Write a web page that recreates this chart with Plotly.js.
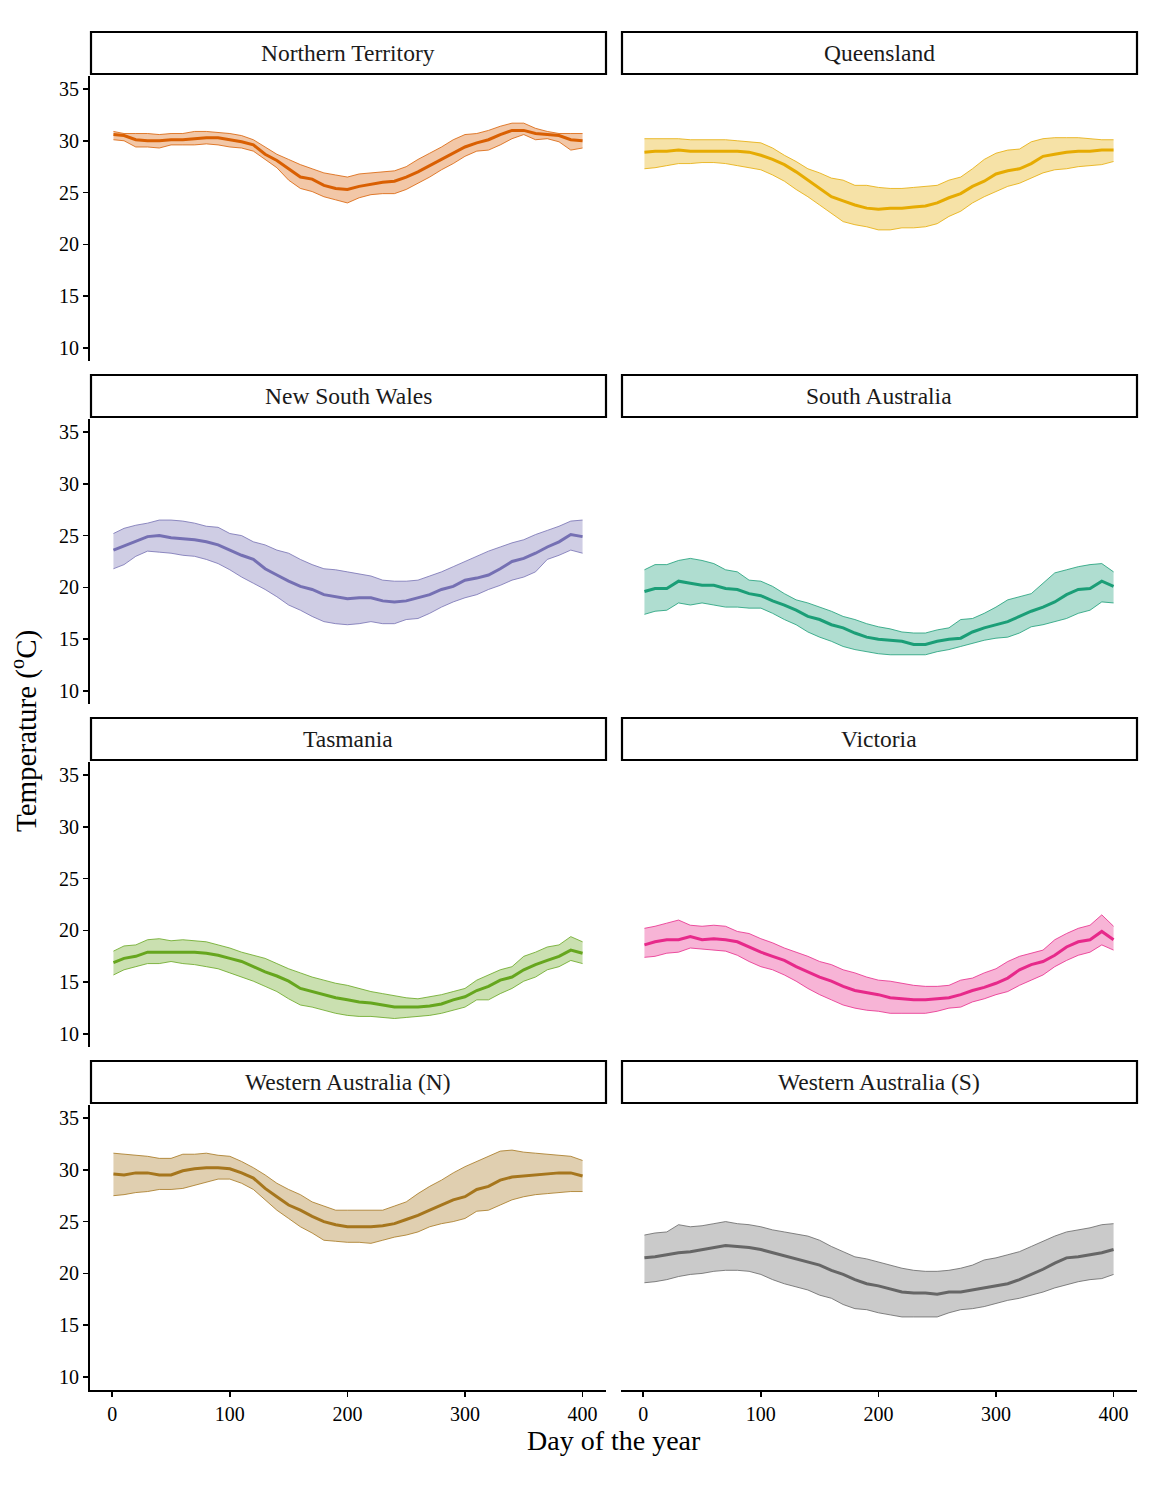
<!DOCTYPE html>
<html>
<head>
<meta charset="utf-8">
<script src="https://cdn.plot.ly/plotly-3.0.1.min.js"></script>
<style>html,body{margin:0;padding:0;background:#fff;}#chart{width:1152px;height:1488px;}</style>
</head>
<body>
<div id="chart"></div>
<script>
// ---- data ----
const days = [1, 10, 20, 30, 40, 50, 60, 70, 80, 90, 100, 110, 120, 130, 140, 150, 160, 170, 180, 190, 200,
              210, 220, 230, 240, 250, 260, 270, 280, 290, 300, 310, 320, 330, 340, 350, 360, 370, 380, 390, 400];
const regionNames = ["Northern Territory", "Queensland", "New South Wales", "South Australia", "Tasmania", "Victoria", "Western Australia (N)", "Western Australia (S)"];
const regionColors = ["#D95F02", "#E6AB02", "#7570B3", "#1B9E77", "#66A61E", "#E7298A", "#A6761D", "#666666"];
const xTicks = [0, 100, 200, 300, 400];
const yTicks = [10, 15, 20, 25, 30, 35];

const ntMean = [30.6, 30.5, 30.1, 30.0, 30.0, 30.1, 30.1, 30.2, 30.3, 30.3, 30.1, 29.9, 29.6, 28.7, 28.1, 27.3, 26.5, 26.3, 25.7, 25.4, 25.3,
                25.6, 25.8, 26.0, 26.1, 26.5, 27.0, 27.6, 28.2, 28.8, 29.4, 29.8, 30.1, 30.6, 31.0, 31.0, 30.7, 30.6, 30.5, 30.1, 30.0];
const ntHigh = [30.9, 30.7, 30.7, 30.7, 30.6, 30.7, 30.7, 30.9, 30.9, 30.8, 30.7, 30.5, 30.1, 29.4, 28.7, 28.2, 27.7, 27.3, 26.9, 26.7, 26.5,
                26.8, 26.9, 27.0, 27.1, 27.5, 28.2, 28.8, 29.4, 30.1, 30.6, 30.7, 31.0, 31.4, 31.7, 31.7, 31.2, 30.9, 30.7, 30.7, 30.7];
const ntLow  = [30.1, 30.0, 29.4, 29.4, 29.3, 29.6, 29.6, 29.6, 29.7, 29.6, 29.4, 29.3, 29.0, 28.2, 27.4, 26.2, 25.4, 25.1, 24.6, 24.3, 24.0,
                24.5, 24.8, 24.9, 24.9, 25.3, 25.9, 26.5, 27.2, 27.8, 28.5, 29.0, 29.1, 29.6, 30.2, 30.6, 30.1, 30.2, 29.9, 29.1, 29.3];

const qldMean = [28.9, 29.0, 29.0, 29.1, 29.0, 29.0, 29.0, 29.0, 29.0, 28.9, 28.6, 28.2, 27.7, 27.0, 26.2, 25.4, 24.6, 24.2, 23.8, 23.5, 23.4,
                 23.5, 23.5, 23.6, 23.7, 24.0, 24.5, 24.9, 25.6, 26.1, 26.8, 27.1, 27.3, 27.8, 28.5, 28.7, 28.9, 29.0, 29.0, 29.1, 29.1];
const qldHigh = [30.2, 30.2, 30.2, 30.2, 30.1, 30.1, 30.1, 30.1, 30.0, 29.9, 29.8, 29.3, 28.6, 28.0, 27.3, 26.9, 26.4, 26.2, 25.7, 25.7, 25.5,
                 25.4, 25.4, 25.5, 25.6, 25.7, 26.2, 26.5, 27.3, 28.2, 28.8, 29.1, 29.2, 29.9, 30.2, 30.3, 30.3, 30.3, 30.2, 30.1, 30.1];
const qldLow  = [27.3, 27.4, 27.6, 27.8, 27.8, 27.9, 27.9, 27.8, 27.6, 27.4, 27.2, 26.7, 26.1, 25.3, 24.6, 23.8, 23.0, 22.2, 21.9, 21.7, 21.4,
                 21.4, 21.6, 21.6, 21.7, 22.0, 22.7, 23.2, 24.0, 24.6, 25.1, 25.6, 25.9, 26.4, 26.9, 27.2, 27.3, 27.5, 27.6, 27.7, 28.0];

const nswMean = [23.6, 24.0, 24.5, 24.9, 25.0, 24.8, 24.7, 24.6, 24.4, 24.1, 23.6, 23.1, 22.7, 21.8, 21.2, 20.6, 20.1, 19.8, 19.3, 19.1, 18.9,
                 19.0, 19.0, 18.7, 18.6, 18.7, 19.0, 19.3, 19.8, 20.1, 20.7, 20.9, 21.2, 21.8, 22.5, 22.8, 23.3, 23.9, 24.4, 25.1, 24.9];
const nswHigh = [25.2, 25.7, 26.0, 26.2, 26.5, 26.5, 26.4, 26.2, 25.9, 25.8, 25.2, 25.0, 24.4, 24.1, 23.6, 23.3, 22.7, 22.2, 21.8, 21.7, 21.5,
                 21.3, 21.1, 20.7, 20.6, 20.6, 20.7, 21.1, 21.5, 22.0, 22.5, 23.0, 23.5, 23.9, 24.3, 24.6, 25.1, 25.5, 25.9, 26.4, 26.5];
const nswLow  = [21.8, 22.2, 23.0, 23.5, 23.4, 23.3, 23.1, 23.0, 22.7, 22.3, 21.7, 21.0, 20.4, 19.8, 19.1, 18.3, 17.8, 17.2, 16.7, 16.5, 16.4,
                 16.5, 16.7, 16.5, 16.5, 16.9, 17.0, 17.5, 18.1, 18.6, 19.0, 19.3, 19.8, 20.2, 20.7, 21.0, 21.5, 22.7, 23.1, 23.6, 23.3];

const saMean = [19.6, 19.9, 19.9, 20.6, 20.4, 20.2, 20.2, 19.9, 19.8, 19.4, 19.2, 18.7, 18.3, 17.8, 17.2, 16.9, 16.4, 16.1, 15.6, 15.2, 15.0,
                14.9, 14.8, 14.5, 14.5, 14.8, 15.0, 15.1, 15.7, 16.1, 16.4, 16.7, 17.2, 17.7, 18.1, 18.6, 19.3, 19.8, 19.9, 20.6, 20.1];
const saHigh = [21.7, 22.2, 22.2, 22.6, 22.8, 22.6, 22.3, 21.7, 21.5, 20.7, 20.6, 20.1, 19.4, 18.8, 18.5, 18.1, 17.7, 17.2, 16.9, 16.5, 16.2,
                16.0, 15.7, 15.6, 15.6, 15.9, 16.1, 16.9, 17.0, 17.5, 18.1, 18.8, 19.1, 19.4, 20.4, 21.4, 21.7, 22.0, 22.2, 22.3, 21.5];
const saLow  = [17.4, 17.7, 17.8, 18.5, 18.3, 18.5, 18.3, 18.1, 18.1, 18.0, 18.0, 17.5, 16.9, 16.4, 15.7, 15.2, 14.8, 14.3, 14.0, 13.8, 13.6,
                13.5, 13.5, 13.5, 13.5, 13.8, 14.0, 14.3, 14.6, 14.9, 15.1, 15.2, 15.6, 16.2, 16.4, 16.7, 17.0, 17.5, 17.8, 18.6, 18.5];

const tasMean = [16.9, 17.3, 17.5, 17.9, 17.9, 17.9, 17.9, 17.9, 17.8, 17.6, 17.3, 17.0, 16.5, 16.0, 15.6, 15.1, 14.4, 14.1, 13.8, 13.5, 13.3,
                 13.1, 13.0, 12.8, 12.6, 12.6, 12.6, 12.7, 12.9, 13.3, 13.6, 14.2, 14.6, 15.2, 15.5, 16.2, 16.7, 17.1, 17.5, 18.1, 17.8];
const tasHigh = [18.0, 18.5, 18.6, 19.1, 19.2, 19.0, 19.1, 19.0, 18.9, 18.6, 18.3, 17.9, 17.6, 17.3, 16.8, 16.3, 15.9, 15.5, 15.2, 14.9, 14.7,
                 14.4, 14.1, 13.9, 13.7, 13.5, 13.4, 13.6, 13.8, 14.1, 14.4, 15.2, 15.7, 16.2, 16.5, 17.5, 17.9, 18.4, 18.6, 19.4, 18.9];
const tasLow  = [15.7, 16.2, 16.5, 16.8, 16.8, 17.0, 16.8, 16.7, 16.5, 16.3, 15.9, 15.5, 15.1, 14.6, 14.1, 13.4, 12.8, 12.6, 12.3, 12.0, 11.8,
                 11.7, 11.7, 11.6, 11.5, 11.6, 11.7, 11.8, 12.0, 12.3, 12.6, 13.3, 13.3, 13.9, 14.4, 15.1, 15.5, 16.2, 16.5, 17.1, 16.8];

const vicMean = [18.6, 18.9, 19.1, 19.1, 19.4, 19.1, 19.2, 19.1, 18.9, 18.4, 17.9, 17.5, 17.1, 16.5, 16.0, 15.5, 15.1, 14.6, 14.2, 14.0, 13.8,
                 13.5, 13.4, 13.3, 13.3, 13.4, 13.5, 13.8, 14.2, 14.5, 14.9, 15.4, 16.2, 16.7, 17.0, 17.6, 18.4, 18.9, 19.1, 19.9, 19.1];
const vicHigh = [20.2, 20.4, 20.7, 21.0, 20.5, 20.4, 20.5, 20.4, 19.9, 19.7, 19.2, 18.8, 18.3, 17.9, 17.5, 17.0, 16.7, 16.2, 15.9, 15.5, 15.2,
                 15.1, 14.9, 14.7, 14.6, 14.6, 14.7, 15.2, 15.4, 15.9, 16.3, 17.0, 17.5, 17.8, 18.1, 19.1, 19.7, 20.2, 20.5, 21.5, 20.4];
const vicLow  = [17.4, 17.5, 17.8, 17.9, 18.3, 18.2, 18.1, 18.0, 17.6, 17.0, 16.5, 16.2, 15.7, 15.1, 14.4, 13.8, 13.3, 12.8, 12.5, 12.3, 12.2,
                 12.0, 12.0, 12.0, 12.0, 12.2, 12.5, 12.6, 13.1, 13.4, 13.8, 14.1, 14.7, 15.2, 15.7, 16.5, 17.1, 17.6, 17.9, 18.6, 18.1];

const wanMean = [29.6, 29.5, 29.7, 29.7, 29.5, 29.5, 29.9, 30.1, 30.2, 30.2, 30.1, 29.7, 29.2, 28.2, 27.4, 26.6, 26.1, 25.5, 25.0, 24.7, 24.5,
                 24.5, 24.5, 24.6, 24.8, 25.2, 25.6, 26.1, 26.6, 27.1, 27.4, 28.1, 28.4, 29.0, 29.3, 29.4, 29.5, 29.6, 29.7, 29.7, 29.4];
const wanHigh = [31.6, 31.5, 31.4, 31.3, 31.1, 31.1, 31.5, 31.5, 31.6, 31.4, 31.3, 30.8, 30.2, 29.5, 28.7, 28.1, 27.6, 26.9, 26.5, 26.1, 26.1,
                 26.1, 26.1, 26.1, 26.5, 26.9, 27.7, 28.4, 29.0, 29.7, 30.3, 30.8, 31.3, 31.8, 31.9, 31.7, 31.6, 31.5, 31.4, 31.3, 30.9];
const wanLow  = [27.5, 27.6, 27.8, 27.9, 28.1, 28.1, 28.2, 28.5, 28.8, 29.1, 29.1, 28.7, 28.1, 27.1, 26.1, 25.3, 24.5, 23.9, 23.2, 23.1, 23.0,
                 23.0, 22.9, 23.2, 23.5, 23.7, 24.0, 24.5, 24.8, 25.0, 25.3, 26.0, 26.1, 26.6, 27.1, 27.4, 27.6, 27.7, 27.8, 27.9, 27.9];

const wasMean = [21.5, 21.6, 21.8, 22.0, 22.1, 22.3, 22.5, 22.7, 22.6, 22.5, 22.3, 22.0, 21.7, 21.4, 21.1, 20.8, 20.3, 19.9, 19.4, 19.0, 18.8,
                 18.5, 18.2, 18.1, 18.1, 18.0, 18.2, 18.2, 18.4, 18.6, 18.8, 19.0, 19.4, 19.9, 20.4, 21.0, 21.5, 21.6, 21.8, 22.0, 22.3];
const wasHigh = [23.7, 23.9, 24.0, 24.7, 24.5, 24.6, 24.8, 25.0, 24.8, 24.7, 24.5, 24.2, 24.0, 23.8, 23.6, 23.2, 22.6, 22.1, 21.6, 21.4, 21.1,
                 20.8, 20.5, 20.3, 20.2, 20.2, 20.3, 20.5, 20.8, 21.3, 21.5, 21.8, 22.1, 22.6, 23.1, 23.6, 24.0, 24.2, 24.4, 24.7, 24.8];
const wasLow  = [19.1, 19.2, 19.4, 19.7, 19.9, 20.0, 20.2, 20.3, 20.3, 20.2, 19.9, 19.4, 19.0, 18.7, 18.4, 17.9, 17.6, 17.0, 16.6, 16.5, 16.2,
                 16.0, 15.8, 15.8, 15.8, 15.8, 16.2, 16.5, 16.6, 16.8, 17.1, 17.4, 17.6, 17.9, 18.2, 18.6, 18.9, 19.2, 19.4, 19.5, 19.9];

const meanSeries = [ntMean, qldMean, nswMean, saMean, tasMean, vicMean, wanMean, wasMean];
const highSeries = [ntHigh, qldHigh, nswHigh, saHigh, tasHigh, vicHigh, wanHigh, wasHigh];
const lowSeries  = [ntLow, qldLow, nswLow, saLow, tasLow, vicLow, wanLow, wasLow];

// ---- layout helpers ----
const W = 1152, H = 1488;
const px = v => v / W;
const py = v => 1 - v / H;
const colL = [90, 621], colR = [606, 1137];
const rowStep = 343;
const plotTop0 = 76, plotBot0 = 361, stripTop0 = 32, stripBot0 = 74;
const FONT = "Liberation Serif, Times New Roman, serif";

function rgba(hex, a) {
  const r = parseInt(hex.slice(1, 3), 16), g = parseInt(hex.slice(3, 5), 16), b = parseInt(hex.slice(5, 7), 16);
  return `rgba(${r},${g},${b},${a})`;
}

const traces = [];
const layout = {
  width: W, height: H,
  margin: {l: 0, r: 0, t: 0, b: 0},
  paper_bgcolor: "#fff", plot_bgcolor: "#fff",
  showlegend: false,
  font: {family: FONT, color: "#000", size: 20},
  shapes: [], annotations: []
};

for (let i = 0; i < 8; i++) {
  const row = Math.floor(i / 2), col = i % 2;
  const n = i + 1;
  const xa = n === 1 ? "x" : "x" + n;
  const ya = n === 1 ? "y" : "y" + n;
  const c = regionColors[i];
  traces.push({x: days, y: lowSeries[i], xaxis: xa, yaxis: ya, mode: "lines", line: {color: c, width: 0.8}, hoverinfo: "skip"});
  traces.push({x: days, y: highSeries[i], xaxis: xa, yaxis: ya, mode: "lines", line: {color: c, width: 0.8}, fill: "tonexty", fillcolor: rgba(c, 0.35), hoverinfo: "skip"});
  traces.push({x: days, y: meanSeries[i], xaxis: xa, yaxis: ya, mode: "lines", line: {color: c, width: 3}, hoverinfo: "skip"});

  const top = plotTop0 + row * rowStep, bot = plotBot0 + row * rowStep;
  const bottomRow = row === 3, leftCol = col === 0;
  layout[n === 1 ? "xaxis" : "xaxis" + n] = {
    domain: [px(colL[col]), px(colR[col])], anchor: ya, range: [-18.95, 419.95],
    showgrid: false, zeroline: false, fixedrange: true,
    showline: bottomRow, linecolor: "#000", linewidth: 2,
    ticks: bottomRow ? "outside" : "", ticklen: 5, tickwidth: 1.6, tickcolor: "#000",
    tickmode: "array", tickvals: xTicks, ticktext: xTicks.map(String),
    showticklabels: bottomRow, tickfont: {family: FONT, size: 20, color: "#000"}
  };
  layout[n === 1 ? "yaxis" : "yaxis" + n] = {
    domain: [py(bot), py(top)], anchor: xa, range: [8.75, 36.25],
    showgrid: false, zeroline: false, fixedrange: true,
    showline: leftCol, linecolor: "#000", linewidth: 2,
    ticks: leftCol ? "outside" : "", ticklen: 5, tickwidth: 1.6, tickcolor: "#000",
    tickmode: "array", tickvals: yTicks, ticktext: yTicks.map(String),
    showticklabels: leftCol, tickfont: {family: FONT, size: 20, color: "#000"}
  };
  // strip
  const sTop = stripTop0 + row * rowStep, sBot = stripBot0 + row * rowStep;
  layout.shapes.push({type: "rect", xref: "paper", yref: "paper",
    x0: px(colL[col] + 1), x1: px(colR[col]), y0: py(sBot), y1: py(sTop),
    line: {color: "#000", width: 2.2}, fillcolor: "#fff", layer: "above"});
  layout.annotations.push({xref: "paper", yref: "paper", x: px((colL[col] + colR[col]) / 2), y: py((sTop + sBot) / 2),
    text: regionNames[i], showarrow: false, xanchor: "center", yanchor: "middle",
    font: {family: FONT, size: 23.5, color: "#1a1a1a"}});
}

layout.annotations.push({xref: "paper", yref: "paper", x: px(613.5), y: py(1440), text: "Day of the year",
  showarrow: false, xanchor: "center", yanchor: "middle", font: {family: FONT, size: 28, color: "#000"}});
layout.annotations.push({xref: "paper", yref: "paper", x: px(25), y: py(731), text: "Temperature (<sup>o</sup>C)",
  showarrow: false, xanchor: "center", yanchor: "middle", textangle: -90, font: {family: FONT, size: 29, color: "#000"}});

Plotly.newPlot("chart", traces, layout, {staticPlot: true, displayModeBar: false});
</script>
</body>
</html>
